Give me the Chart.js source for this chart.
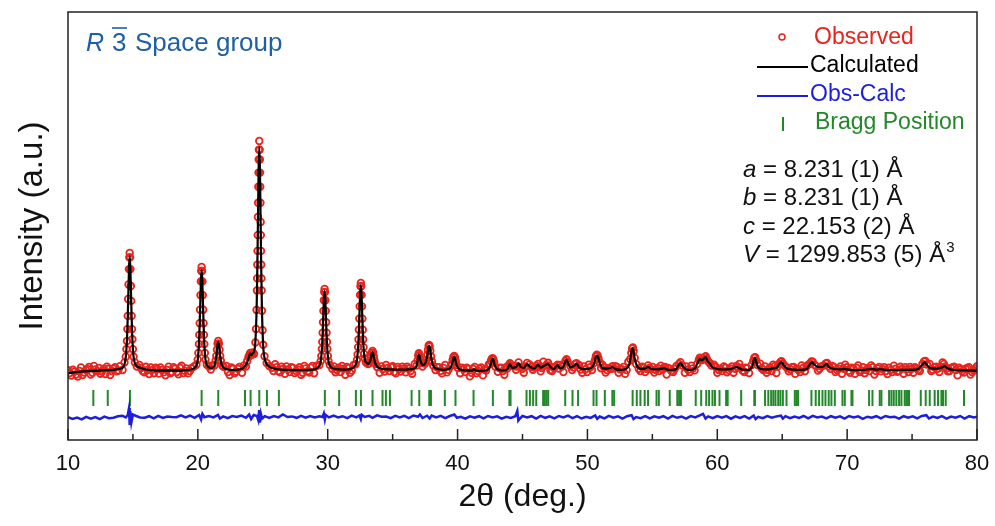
<!DOCTYPE html>
<html>
<head>
<meta charset="utf-8">
<script src="https://cdn.jsdelivr.net/npm/chart.js@4.4.1/dist/chart.umd.min.js"></script>
<style>
  html, body { margin: 0; padding: 0; background: #fff; }
  #wrap { width: 995px; height: 526px; }
</style>
</head>
<body>
<div id="wrap"><canvas id="xrd" width="995" height="526"></canvas></div>
<script>
// x axis ticks (2theta, deg.)
const xTicks = [10, 20, 30, 40, 50, 60, 70, 80];
const xMinorTicks = [15, 25, 35, 45, 55, 65, 75];

// Bragg reflection positions
const braggPositions = [
  11.95, 13.06, 14.77, 20.29, 21.57, 23.63, 24.06, 24.73, 25.32, 26.24, 29.78, 30.88, 32.17, 32.56,
  33.45, 34.22, 34.48, 34.79, 36.46, 37.05, 37.82, 37.95, 39.02, 39.84, 41.23, 42.72, 43.99, 44.08,
  45.31, 45.57, 45.82, 46.06, 46.59, 46.72, 46.85, 46.98, 48.29, 48.85, 49.28, 50.47, 50.7, 51.34,
  51.92, 52.06, 53.48, 53.8, 54.08, 54.41, 54.67, 55.32, 55.5, 56.34, 56.92, 57.06, 57.2, 58.34,
  58.76, 59.15, 59.37, 59.63, 59.82, 60.17, 60.68, 60.8, 61.84, 62.85, 62.9, 63.68, 63.93, 64.15,
  64.32, 64.48, 64.69, 64.86, 65.05, 65.33, 65.97, 66.1, 66.22, 67.25, 67.58, 67.84, 68.1, 68.33,
  68.58, 68.79, 69.05, 69.64, 69.82, 70.33, 70.41, 71.69, 71.95, 72.51, 72.64, 73.23, 73.41, 73.59,
  73.79, 74.0, 74.18, 74.43, 74.56, 74.69, 74.77, 75.67, 76.05, 76.36, 76.74, 77.0, 77.26, 77.38,
  77.59, 79.0
];

// observed intensity (a.u.): [2theta, counts]
const observed = [
  [10.0,698],[10.25,644],[10.5,684],[10.75,635],[11.0,725],[11.25,674],[11.5,710],[11.75,654],[12.0,740],[12.25,689],
  [12.5,663],[12.75,713],[13.0,734],[13.25,650],[13.5,714],[13.75,686],[14.0,738],[14.2,700],
  [14.35,775],[14.45,833],[14.5,908],[14.54,990],[14.57,1109],[14.6,1241],[14.63,1410],[14.66,1555],[14.69,1709],[14.72,1826],
  [14.75,1870],[14.78,1826],[14.81,1709],[14.84,1540],[14.87,1391],[14.9,1241],[14.93,1109],[14.96,1007],[15.0,908],[15.05,833],
  [15.15,775],[15.3,735],
  [15.5,750],[15.75,689],[16.0,732],[16.25,659],[16.5,701],[16.75,724],[17.0,665],[17.25,701],[17.5,647],[17.75,734],
  [18.0,680],[18.25,714],[18.5,657],[18.75,742],[19.0,691],[19.25,666],[19.5,718],[19.7,735],
  [19.89,752],[19.99,804],[20.04,871],[20.08,959],[20.11,1051],[20.14,1168],[20.17,1303],[20.2,1449],[20.23,1586],[20.26,1690],
  [20.29,1730],[20.32,1690],[20.35,1586],[20.38,1449],[20.41,1303],[20.44,1168],[20.47,1051],[20.5,959],[20.54,871],[20.59,804],
  [20.69,752],[20.85,735],[21.0,705],[21.1,745],
  [21.27,745],[21.37,794],[21.42,841],[21.47,902],[21.52,962],[21.57,990],[21.62,962],[21.67,902],[21.72,841],[21.77,794],
  [21.87,745],[21.97,732],
  [22.2,741],[22.45,650],[22.7,712],[22.95,682],[23.2,731],[23.4,672],[23.55,745],[23.7,735],[23.8,790],[23.9,830],
  [23.97,850],[24.03,870],[24.1,850],[24.17,855],[24.23,875],
  [24.33,860],[24.43,975],[24.48,1110],[24.52,1300],[24.55,1495],[24.565,1616],[24.58,1753],[24.595,1891],[24.61,2049],[24.625,2230],
  [24.64,2372],[24.655,2532],[24.67,2674],[24.685,2805],[24.7,2903],[24.73,2990],[24.76,2903],[24.775,2805],[24.79,2674],[24.805,2532],
  [24.82,2372],[24.835,2180],[24.85,2049],[24.865,1891],[24.88,1753],[24.895,1616],[24.91,1495],[24.94,1293],[24.98,1098],[25.03,952],
  [25.13,837],[25.3,770],[25.5,740],
  [25.7,722],[25.95,757],[26.2,689],[26.45,734],[26.7,662],[26.95,706],[27.2,729],[27.45,670],[27.7,706],[27.95,653],
  [28.2,741],[28.45,688],[28.7,723],[28.95,668],[29.15,742],
  [29.36,749],[29.46,789],[29.51,841],[29.55,910],[29.58,981],[29.61,1073],[29.64,1177],[29.67,1291],[29.7,1398],[29.73,1479],
  [29.76,1510],[29.79,1479],[29.82,1398],[29.85,1291],[29.88,1177],[29.91,1073],[29.94,981],[29.97,910],[30.01,841],[30.06,789],
  [30.16,749],
  [30.35,713],[30.6,678],[30.85,722],[31.1,740],[31.35,653],[31.6,718],[31.85,694],[32.0,751],
  [32.15,757],[32.25,800],[32.3,856],[32.34,929],[32.37,1005],[32.4,1103],[32.43,1214],[32.46,1336],[32.49,1451],[32.52,1537],
  [32.55,1570],[32.58,1537],[32.61,1451],[32.64,1336],[32.67,1214],[32.7,1103],[32.73,1005],[32.76,929],[32.8,860],[32.85,815],
  [32.95,775],
  [33.1,760],[33.2,768],[33.27,790],[33.33,832],[33.38,870],[33.45,890],[33.5,872],[33.55,835],[33.6,795],[33.68,760],
  [33.8,730],
  [34.0,672],[34.25,710],[34.5,751],[34.75,689],[35.0,737],[35.25,667],[35.5,710],[35.75,734],[36.0,676],[36.25,713],
  [36.5,663],[36.7,760],
  [36.85,745],[36.92,795],[36.97,845],[37.02,867],[37.07,848],[37.12,810],[37.2,772],[37.3,735],[37.4,770],[37.5,765],
  [37.6,800],[37.67,850],[37.72,900],[37.77,940],[37.81,950],[37.85,935],[37.9,890],[37.96,835],[38.03,785],[38.12,745],
  [38.3,700],[38.55,727],[38.8,666],[39.05,750],[39.3,701],[39.48,740],
  [39.56,760],[39.62,800],[39.68,830],[39.74,840],[39.8,825],[39.86,790],[39.93,750],[40.02,720],
  [40.2,668],[40.45,709],[40.7,724],[40.95,636],[41.2,712],[41.45,668],[41.7,712],[41.95,646],[42.2,694],[42.4,755],
  [42.5,760],[42.57,790],[42.63,810],[42.7,817],[42.76,805],[42.82,775],[42.9,735],
  [43.1,682],[43.35,722],[43.6,652],[43.8,711],[43.95,750],[44.03,767],[44.1,745],[44.3,742],[44.5,702],[44.7,775],
  [44.9,730],[45.1,673],[45.35,770],[45.55,755],[45.8,703],[46.05,742],[46.2,760],[46.4,686],[46.6,783],[46.8,747],
  [46.97,772],[47.15,698],[47.4,721],[47.7,752],[47.9,751],[48.15,680],[48.3,790],[48.39,807],[48.48,780],[48.7,737],
  [48.95,725],[49.16,767],[49.35,751],[49.6,672],[49.85,707],[50.1,753],[50.35,699],
  [50.5,770],[50.58,800],[50.65,838],[50.72,852],[50.78,845],[50.85,815],[50.95,775],
  [51.15,752],[51.4,675],[51.65,721],[51.93,738],[52.15,738],[52.4,672],[52.65,708],[52.9,661],[53.15,782],
  [53.3,810],[53.38,870],[53.44,915],[53.5,925],[53.56,890],[53.64,820],[53.75,760],
  [53.95,713],[54.2,732],[54.45,679],[54.67,745],[54.9,707],[55.15,674],[55.4,721],[55.65,744],[55.88,725],[56.1,655],
  [56.35,710],[56.6,680],[56.85,741],[57.05,760],[57.16,778],[57.3,745],[57.5,672],[57.75,702],[58.0,743],[58.25,696],
  [58.45,760],[58.58,800],[58.65,822],[58.75,805],[58.85,800],[58.95,815],[59.05,830],[59.11,838],[59.2,810],[59.3,785],
  [59.42,770],[59.55,745],
  [59.75,752],[60.0,672],[60.25,713],[60.5,735],[60.75,678],[61.0,716],[61.25,673],[61.48,740],[61.7,760],[61.95,693],
  [62.2,722],[62.45,669],
  [62.65,750],[62.77,790],[62.85,822],[62.92,828],[63.0,795],[63.1,750],
  [63.3,763],[63.55,700],[63.8,673],[64.05,726],[64.3,753],[64.55,670],[64.75,760],[64.87,780],[64.94,788],[65.05,765],
  [65.25,737],[65.5,688],[65.75,729],[66.0,661],[66.25,702],[66.5,745],[66.75,688],[67.0,754],[67.15,765],[67.25,785],
  [67.35,782],[67.5,750],[67.75,695],[68.0,736],[68.2,745],[68.35,765],[68.45,770],[68.6,735],[68.85,740],[69.1,679],
  [69.35,713],[69.6,663],[69.85,754],[70.1,691],[70.35,722],[70.6,662],[70.85,746],[71.1,694],[71.35,668],[71.6,721],
  [71.85,746],[72.1,655],[72.35,715],[72.6,686],[72.85,728],[73.1,660],[73.35,700],[73.6,743],[73.85,683],[74.1,732],
  [74.35,663],[74.6,708],[74.85,731],[75.1,673],[75.35,714],[75.6,690],[75.8,760],[75.92,785],[76.02,790],[76.15,755],
  [76.35,760],[76.6,701],[76.85,734],[77.1,679],[77.35,776],[77.55,735],[77.75,686],[78.0,719],[78.25,734],[78.5,646],
  [78.75,707],[79.0,675],[79.25,721],[79.5,654],[79.75,695],[80.0,737]
];

// second, interleaved set of observed points on the background (denser scan)
const observedBackground = [
  [10.12,670],[10.38,702],[10.62,655],[10.88,690],[11.12,650],[11.38,700],[11.62,730],[11.88,672],[12.12,705],[12.38,720],
  [12.62,684],[12.88,660],[13.12,712],[13.38,690],[13.62,728],[13.88,695],[15.62,720],[15.88,676],[16.12,700],[16.38,726],
  [16.62,668],[16.88,710],[17.12,725],[17.38,676],[17.62,700],[17.88,668],[18.12,728],[18.38,680],[18.62,722],[18.88,670],
  [19.12,716],[19.38,690],[22.32,680],[22.58,725],[22.82,668],[23.08,712],[25.82,690],[26.08,728],[26.32,676],[26.58,712],
  [26.82,735],[27.08,680],[27.32,720],[27.58,690],[27.82,728],[28.08,672],[28.32,715],[28.58,675],[28.82,740],[30.48,735],
  [30.72,700],[30.98,680],[31.22,712],[31.48,730],[31.72,672],[34.12,735],[34.38,684],[34.62,720],[34.88,728],[35.12,680],
  [35.38,730],[35.62,684],[35.88,716],[36.12,732],[36.38,690],[38.42,728],[38.68,690],[38.92,720],[39.18,676],[40.32,722],
  [40.58,680],[40.82,712],[41.08,672],[41.32,730],[41.58,690],[41.82,725],[42.08,705],[43.22,720],[43.48,690],[43.72,728],
  [44.4,738],[44.6,735],[45.0,712],[45.22,735],[45.68,730],[45.92,725],[46.3,730],[46.5,720],[47.05,745],[47.28,690],
  [47.55,735],[47.8,715],[48.05,735],[48.82,700],[49.05,760],[49.48,705],[49.72,735],[49.98,680],[50.22,728],[51.05,718],
  [51.28,728],[51.52,700],[51.78,710],[52.02,715],[52.28,730],[52.52,705],[52.78,730],[53.02,700],[54.08,690],[54.32,720],
  [54.55,712],[54.78,720],[55.02,730],[55.28,700],[55.52,690],[55.78,705],[55.98,730],[56.22,720],[56.48,690],[56.72,712],
  [57.62,735],[57.88,680],[58.12,715],[59.88,730],[60.12,700],[60.38,690],[60.62,722],[60.88,700],[61.12,735],[61.38,712],
  [61.6,725],[61.82,722],[62.08,680],[62.32,718],[63.42,718],[63.68,735],[63.92,700],[64.18,690],[64.42,738],[64.65,735],
  [65.38,720],[65.62,708],[65.88,730],[66.12,712],[66.38,680],[66.62,722],[66.88,735],[67.62,738],[67.88,712],[68.72,712],
  [68.98,730],[69.22,700],[69.48,735],[69.72,712],[69.98,728],[70.22,672],[70.48,712],[70.72,722],[70.98,680],[71.22,728],
  [71.48,700],[71.72,690],[71.98,728],[72.22,690],[72.48,730],[72.72,710],[72.98,690],[73.22,722],[73.48,680],[73.72,712],
  [73.98,690],[74.22,712],[74.48,728],[74.72,680],[74.98,712],[75.22,728],[75.48,700],[76.48,690],[76.72,728],[76.98,712],
  [77.22,730],[77.45,760],[77.65,715],[77.88,690],[78.12,728],[78.38,700],[78.62,722],[78.88,690],[79.12,712],[79.38,728],
  [79.62,680],[79.88,712]
];

// calculated (refined) profile: [2theta, counts]
const calculated = [
  [10.0,668],[10.5,676],[11.0,683],[11.5,688],[12.0,692],[12.5,695],[13.0,698],[13.5,702],[14.0,712],[14.3,740],
  [14.45,830],[14.55,1030],[14.6,1227],[14.65,1479],[14.7,1727],[14.75,1840],[14.8,1727],[14.85,1479],[14.9,1227],[14.95,1030],
  [15.05,830],[15.2,755],[15.45,727],[15.9,708],
  [16.5,697],[17.0,694],[17.5,693],[18.0,693],[18.5,694],[19.0,697],[19.5,705],
  [19.84,735],[19.99,802],[20.09,980],[20.14,1157],[20.19,1382],[20.24,1604],[20.29,1705],[20.34,1604],[20.39,1382],[20.44,1157],
  [20.49,980],[20.59,802],[20.74,740],[20.95,722],
  [21.12,722],[21.27,742],[21.37,792],[21.42,838],[21.47,898],[21.52,955],[21.57,982],[21.62,955],[21.67,898],[21.72,838],
  [21.77,792],[21.87,742],[22.02,718],[22.3,705],[22.7,700],
  [23.2,706],[23.5,722],[23.75,762],[23.9,815],[24.0,858],[24.05,864],[24.12,848],[24.22,866],[24.33,885],[24.43,985],
  [24.53,1338],[24.58,1726],[24.63,2221],[24.68,2707],[24.73,2930],[24.78,2707],[24.83,2221],[24.88,1726],[24.93,1338],[25.03,945],
  [25.18,798],[25.43,742],[25.73,720],
  [26.2,706],[26.8,701],[27.4,699],[28.0,699],[28.6,701],[29.0,706],
  [29.31,735],[29.46,787],[29.56,926],[29.61,1063],[29.66,1239],[29.71,1411],[29.76,1490],[29.81,1411],[29.86,1239],[29.91,1063],
  [29.96,926],[30.06,787],[30.21,735],[30.46,715],[30.9,706],[31.4,704],[31.8,712],
  [32.1,742],[32.25,798],[32.35,947],[32.4,1094],[32.45,1281],[32.5,1466],[32.55,1550],[32.6,1466],[32.65,1281],[32.7,1094],
  [32.75,947],[32.85,812],[33.0,770],[33.15,762],[33.25,782],[33.3,802],[33.35,835],[33.4,868],[33.45,882],[33.5,866],
  [33.55,830],[33.6,795],[33.7,755],[33.85,728],[34.2,712],[34.8,706],[35.5,704],[36.0,704],[36.5,708],
  [36.8,728],[36.92,792],[36.97,838],[37.02,860],[37.07,842],[37.12,805],[37.22,765],[37.35,748],[37.5,765],[37.61,805],
  [37.71,888],[37.76,930],[37.81,945],[37.86,928],[37.91,885],[38.01,795],[38.16,735],[38.4,712],[38.9,702],[39.3,707],
  [39.5,733],[39.64,792],[39.7,826],[39.74,836],[39.79,824],[39.84,792],[39.98,733],[40.2,705],
  [40.7,695],[41.1,693],[41.26,708],[41.42,694],[41.9,692],[42.3,700],[42.5,735],[42.6,778],[42.66,805],[42.7,812],
  [42.75,803],[42.8,776],[42.92,730],[43.2,700],[43.6,695],[43.85,712],[44.03,760],[44.2,722],[44.5,730],[44.7,768],
  [44.85,732],[45.1,720],[45.35,760],[45.55,735],[45.9,714],[46.2,752],[46.4,724],[46.6,738],[46.8,752],[46.97,762],
  [47.15,730],[47.4,708],[47.7,750],[47.9,716],[48.15,732],[48.3,785],[48.39,802],[48.5,770],[48.7,727],[49.0,745],
  [49.16,762],[49.35,727],[49.8,708],[50.3,720],[50.5,760],[50.62,818],[50.7,842],[50.75,845],[50.82,828],[50.95,772],
  [51.2,716],[51.6,713],[51.93,730],[52.2,706],[52.6,701],[53.0,713],[53.25,770],[53.35,850],[53.42,905],[53.47,920],
  [53.53,900],[53.62,828],[53.8,745],[54.1,711],[54.4,713],[54.67,730],[54.9,712],[55.4,706],[55.88,716],[56.3,700],
  [56.8,706],[57.0,745],[57.16,770],[57.3,745],[57.6,706],[58.0,700],[58.3,720],[58.5,775],[58.65,812],[58.8,795],
  [58.95,812],[59.11,828],[59.25,790],[59.42,765],[59.6,730],[60.0,710],[60.5,705],[61.0,708],[61.48,730],[61.9,705],
  [62.4,701],[62.7,740],[62.82,800],[62.89,822],[62.96,800],[63.1,735],[63.5,706],[63.9,706],[64.3,716],[64.55,720],
  [64.8,762],[64.94,778],[65.1,750],[65.4,712],[65.9,703],[66.5,701],[66.9,712],[67.15,760],[67.3,778],[67.45,755],
  [67.76,732],[68.1,730],[68.41,762],[68.6,730],[69.0,710],[69.5,706],[69.8,712],[70.2,701],[70.8,699],[71.3,701],
  [71.87,710],[72.3,703],[72.5,708],[73.0,701],[73.5,699],[74.0,700],[74.5,702],[75.0,701],[75.5,713],[75.8,755],
  [75.97,778],[76.12,755],[76.4,716],[76.9,713],[77.3,726],[77.51,738],[77.7,720],[78.1,701],[78.6,696],[79.2,695],
  [80.0,692]
];

// difference curve (Obs-Calc), drawn with an offset below the pattern
const obsMinusCalc = [
  [10.0,228],[10.35,210],[10.7,224],[11.05,206],[11.4,232],[11.75,214],[12.1,230],[12.45,208],[12.8,234],[13.15,218],
  [13.5,223],[13.85,238],[14.2,243],[14.45,225],[14.6,250],[14.7,320],[14.75,150],[14.8,290],[14.88,175],[15.0,255],
  [15.25,240],[15.55,225],[15.9,222],[16.25,238],[16.6,217],[16.95,241],[17.3,220],[17.65,235],[18.0,229],[18.35,228],
  [18.7,246],[19.05,225],[19.4,244],[19.75,222],[20.1,250],[20.25,205],[20.35,262],[20.5,228],[20.85,240],[21.2,226],
  [21.55,250],[21.7,215],[21.95,236],[22.3,218],[22.65,240],[23.0,230],[23.35,244],[23.7,222],[23.95,255],[24.1,210],
  [24.3,250],[24.55,240],[24.65,200],[24.72,300],[24.78,175],[24.85,265],[24.95,215],[25.15,238],[25.5,220],[25.85,240],
  [26.2,226],[26.55,255],[26.9,230],[27.25,236],[27.6,222],[27.95,242],[28.3,224],[28.65,240],[29.0,226],[29.35,238],
  [29.6,230],[29.7,265],[29.78,205],[29.85,250],[30.1,226],[30.45,245],[30.8,226],[31.15,238],[31.5,218],[31.85,244],
  [32.2,227],[32.45,245],[32.55,210],[32.62,252],[32.85,230],[33.2,241],[33.45,222],[33.8,246],[34.15,232],[34.5,235],
  [34.85,219],[35.2,242],[35.55,225],[35.9,241],[36.25,219],[36.6,245],[36.95,232],[37.1,255],[37.3,220],[37.65,243],
  [37.85,215],[38.0,245],[38.35,226],[38.7,241],[39.05,218],[39.4,240],[39.75,255],[39.95,222],[40.25,232],[40.6,214],
  [40.95,236],[41.3,222],[41.65,238],[42.0,216],[42.35,240],[42.7,226],[43.05,237],[43.4,213],[43.75,231],[44.1,221],
  [44.45,237],[44.6,290],[44.68,195],[44.8,215],[45.0,240],[45.35,226],[45.7,238],[46.05,214],[46.4,241],[46.75,222],
  [47.1,236],[47.45,216],[47.8,240],[48.15,226],[48.5,243],[48.85,219],[49.2,239],[49.55,215],[49.9,232],[50.25,221],
  [50.6,245],[50.75,212],[50.95,235],[51.3,216],[51.65,241],[52.0,224],[52.35,236],[52.7,214],[53.05,238],[53.4,248],
  [53.55,210],[53.75,230],[54.1,219],[54.45,239],[54.8,216],[55.15,237],[55.5,222],[55.85,238],[56.2,215],[56.55,241],
  [56.9,222],[57.25,234],[57.6,214],[57.95,239],[58.3,226],[58.65,246],[58.9,262],[59.1,215],[59.3,236],[59.65,219],
  [60.0,240],[60.35,224],[60.7,239],[61.05,213],[61.4,237],[61.75,221],[62.1,238],[62.45,215],[62.8,244],[62.95,210],
  [63.15,232],[63.5,218],[63.85,240],[64.2,223],[64.55,236],[64.9,244],[65.05,214],[65.25,238],[65.6,218],[65.95,235],
  [66.3,221],[66.65,240],[67.0,216],[67.35,242],[67.7,225],[68.05,235],[68.4,216],[68.75,238],[69.1,222],[69.45,237],
  [69.8,214],[70.15,240],[70.5,226],[70.85,236],[71.2,212],[71.55,233],[71.9,222],[72.25,238],[72.6,216],[72.95,240],
  [73.3,228],[73.65,233],[74.0,214],[74.35,238],[74.7,222],[75.05,236],[75.4,217],[75.75,240],[76.1,248],[76.3,215],
  [76.6,234],[76.95,220],[77.3,238],[77.65,214],[78.0,235],[78.35,224],[78.7,240],[79.05,215],[79.4,238],[79.75,226],
  [80.0,232]
];

// refined lattice parameters shown in the plot
const latticeParams = [
  ['a', ' = 8.231 (1) Å', ''],
  ['b', ' = 8.231 (1) Å', ''],
  ['c', ' = 22.153 (2) Å', ''],
  ['V', ' = 1299.853 (5) Å', '3']
];

const FONT = '"Liberation Sans", Arial, Helvetica, sans-serif';
const RED = '#e8231d';
const BLUE = '#1d1de0';
const GREEN = '#23882a';
const BRAGG_LEVEL = 420; // vertical place of the tick row, in counts

const toPoints = arr => arr.map(p => ({ x: p[0], y: p[1] }));

const decorations = {
  id: 'decorations',
  afterDraw(chart) {
    const { ctx, chartArea: a, scales: { x } } = chart;
    ctx.save();

    // frame + inward ticks on the bottom axis
    ctx.strokeStyle = '#222';
    ctx.lineWidth = 1.5;
    ctx.strokeRect(a.left, a.top, a.right - a.left, a.bottom - a.top);
    ctx.beginPath();
    xTicks.forEach(t => {
      const px = x.getPixelForValue(t);
      ctx.moveTo(px, a.bottom); ctx.lineTo(px, a.bottom - 11);
    });
    xMinorTicks.forEach(t => {
      const px = x.getPixelForValue(t);
      ctx.moveTo(px, a.bottom); ctx.lineTo(px, a.bottom - 6);
    });
    ctx.stroke();

    // tick labels and axis titles
    ctx.fillStyle = '#111';
    ctx.textAlign = 'center';
    ctx.textBaseline = 'middle';
    ctx.font = `22px ${FONT}`;
    xTicks.forEach(t => ctx.fillText(String(t), x.getPixelForValue(t), 464));
    ctx.font = `32px ${FONT}`;
    ctx.fillText('2θ (deg.)', (a.left + a.right) / 2, 497);
    ctx.save();
    ctx.translate(33, (a.top + a.bottom) / 2);
    ctx.rotate(-Math.PI / 2);
    ctx.font = `33px ${FONT}`;
    ctx.fillText('Intensity (a.u.)', 0, 0);
    ctx.restore();

    // space group label
    ctx.textAlign = 'left';
    ctx.fillStyle = '#1f5fa5';
    ctx.font = `italic 25px ${FONT}`;
    ctx.fillText('R', 86, 44);
    ctx.font = `26px ${FONT}`;
    ctx.fillText('3', 112, 44);
    ctx.strokeStyle = '#1f5fa5';
    ctx.lineWidth = 1.6;
    ctx.beginPath(); ctx.moveTo(112, 28); ctx.lineTo(127, 28); ctx.stroke();
    ctx.fillText('Space group', 135, 44);

    // legend
    ctx.font = `23px ${FONT}`;
    ctx.strokeStyle = RED; ctx.lineWidth = 1.5;
    ctx.beginPath(); ctx.arc(782, 37, 3, 0, Math.PI * 2); ctx.stroke();
    ctx.fillStyle = RED; ctx.fillText('Observed', 814, 38);

    ctx.strokeStyle = '#000'; ctx.lineWidth = 2;
    ctx.beginPath(); ctx.moveTo(757, 67); ctx.lineTo(808, 67); ctx.stroke();
    ctx.fillStyle = '#000'; ctx.fillText('Calculated', 810, 66);

    ctx.strokeStyle = BLUE;
    ctx.beginPath(); ctx.moveTo(757, 96); ctx.lineTo(808, 96); ctx.stroke();
    ctx.fillStyle = BLUE; ctx.fillText('Obs-Calc', 810, 95);

    ctx.strokeStyle = GREEN;
    ctx.beginPath(); ctx.moveTo(783, 117); ctx.lineTo(783, 131); ctx.stroke();
    ctx.fillStyle = GREEN; ctx.fillText('Bragg Position', 815, 123);

    // lattice parameters
    ctx.fillStyle = '#111';
    latticeParams.forEach((row, i) => {
      const y = 170 + i * 28.5;
      ctx.font = `italic 24px ${FONT}`;
      ctx.fillText(row[0], 743, y);
      let px = 743 + ctx.measureText(row[0]).width;
      ctx.font = `24px ${FONT}`;
      ctx.fillText(row[1], px, y);
      px += ctx.measureText(row[1]).width;
      if (row[2]) {
        ctx.font = `15px ${FONT}`;
        ctx.fillText(row[2], px + 1, y - 8);
      }
    });

    ctx.restore();
  }
};

const obsStyle = {
  showLine: false,
  pointStyle: 'circle',
  pointRadius: 3.3,
  borderColor: RED,
  backgroundColor: 'rgba(255,255,255,0)',
  pointBorderWidth: 1.8
};

new Chart(document.getElementById('xrd'), {
  type: 'scatter',
  data: {
    datasets: [
      Object.assign({ label: 'Observed', data: toPoints(observed), order: 2 }, obsStyle),
      Object.assign({ label: 'Observed (bg)', data: toPoints(observedBackground), order: 2 }, obsStyle),
      {
        label: 'Calculated',
        data: toPoints(calculated),
        showLine: true,
        pointRadius: 0,
        borderColor: '#000',
        borderWidth: 2.2,
        cubicInterpolationMode: 'monotone',
        order: 1
      },
      {
        label: 'Obs-Calc',
        data: toPoints(obsMinusCalc),
        showLine: true,
        pointRadius: 0,
        borderColor: BLUE,
        borderWidth: 2.5,
        order: 3
      },
      {
        label: 'Bragg Position',
        data: braggPositions.map(t => ({ x: t, y: BRAGG_LEVEL })),
        showLine: false,
        pointStyle: 'line',
        rotation: 90,
        pointRadius: 8,
        borderColor: GREEN,
        pointBorderWidth: 2,
        order: 4
      }
    ]
  },
  options: {
    responsive: false,
    animation: false,
    devicePixelRatio: 1,
    layout: { padding: { left: 68, right: 18, top: 12, bottom: 86 } },
    scales: {
      x: { type: 'linear', min: 10, max: 80, display: false },
      y: { type: 'linear', min: 0, max: 4280, display: false }
    },
    plugins: {
      legend: { display: false },
      tooltip: { enabled: false }
    }
  },
  plugins: [decorations]
});
</script>
</body>
</html>
